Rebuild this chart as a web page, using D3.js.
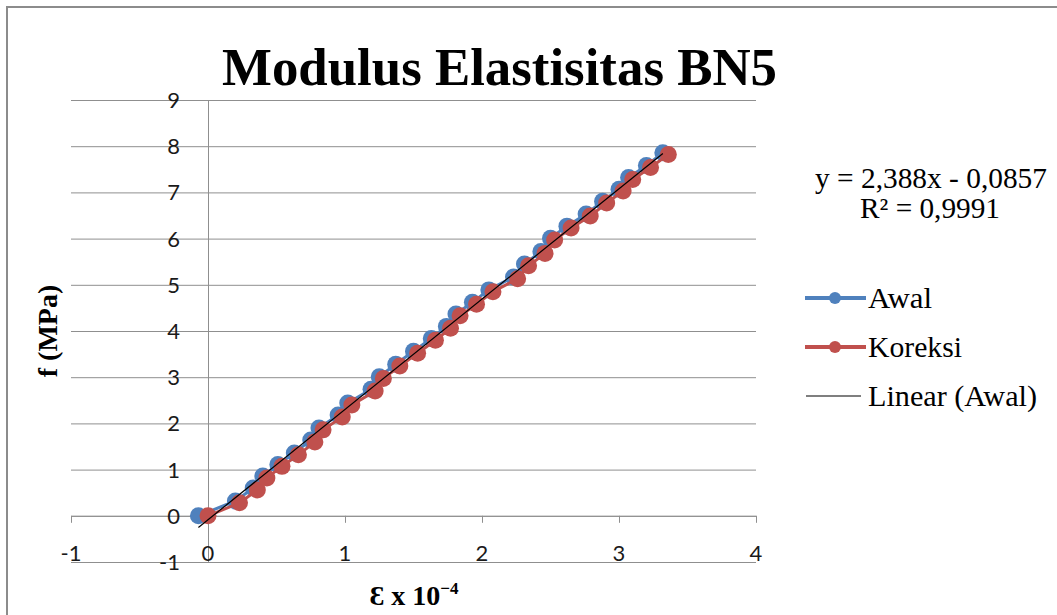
<!DOCTYPE html>
<html><head><meta charset="utf-8">
<script src="https://cdn.jsdelivr.net/npm/d3@7"></script>
<style>body{margin:0;background:#fff;overflow:hidden}</style>
</head><body><svg id="c" width="1057" height="615"></svg>
<script>
// ---- data ----
const awalX = [-0.07, 0.20, 0.33, 0.40, 0.51, 0.63, 0.75, 0.81, 0.95, 1.02, 1.19, 1.25, 1.37, 1.50, 1.63, 1.74, 1.81, 1.93, 2.05, 2.23, 2.31, 2.43, 2.50, 2.62, 2.76, 2.88, 3.00, 3.07, 3.20, 3.32];
const awalY = [0.00, 0.32, 0.60, 0.86, 1.11, 1.36, 1.64, 1.90, 2.18, 2.44, 2.74, 3.01, 3.28, 3.56, 3.84, 4.10, 4.37, 4.62, 4.89, 5.17, 5.45, 5.72, 6.01, 6.27, 6.53, 6.81, 7.07, 7.32, 7.58, 7.86];
const koreksiX = [0.00, 0.23, 0.36, 0.43, 0.54, 0.66, 0.78, 0.84, 0.98, 1.05, 1.22, 1.28, 1.40, 1.53, 1.66, 1.77, 1.84, 1.96, 2.08, 2.26, 2.34, 2.46, 2.53, 2.65, 2.79, 2.91, 3.03, 3.10, 3.23, 3.36];
const koreksiY = [0.00, 0.28, 0.56, 0.82, 1.07, 1.32, 1.60, 1.86, 2.14, 2.40, 2.70, 2.97, 3.24, 3.52, 3.80, 4.06, 4.33, 4.58, 4.85, 5.13, 5.41, 5.68, 5.97, 6.23, 6.49, 6.77, 7.03, 7.28, 7.54, 7.82];
const xTicks = [-1, 0, 1, 2, 3, 4];
const yTicks = [-1, 0, 1, 2, 3, 4, 5, 6, 7, 8, 9];
const trendSlope = 2.388;
const trendIntercept = -0.0857;
const titleText = "Modulus Elastisitas BN5";
const equationText = "y = 2,388x - 0,0857";
const r2Text = "R² = 0,9991";
const seriesNames = ["Awal", "Koreksi", "Linear (Awal)"];
const seriesColors = ["#4F81BD", "#C0504D", "#000000"];

// ---- drawing ----
const svg = d3.select("#c");
const W = 1057, H = 615;
svg.append("rect").attr("x", 0).attr("y", 0).attr("width", W).attr("height", H).attr("fill", "#fff");
svg.append("rect").attr("x", 7).attr("y", 7).attr("width", W + 20).attr("height", H + 20)
  .attr("fill", "none").attr("stroke", "#8c8c8c").attr("stroke-width", 2);

const x = d3.scaleLinear().domain([-1, 4]).range([71, 756]);
const y = d3.scaleLinear().domain([-1, 9]).range([562, 100]);
const grid = "#8f8f8f";

// horizontal gridlines
svg.append("g").attr("transform", `translate(${x(-1)},0)`)
  .call(d3.axisRight(y).tickValues(yTicks).tickSize(x(4) - x(-1)).tickFormat(""))
  .call(g => g.select(".domain").remove())
  .call(g => g.selectAll("line").attr("stroke", grid).attr("stroke-width", 1));

// x axis at y=0
const xa = svg.append("g").attr("transform", `translate(0,${y(0)})`)
  .call(d3.axisBottom(x).tickValues(xTicks).tickSize(7).tickSizeOuter(0).tickFormat(""));
xa.select(".domain").attr("stroke", grid);
xa.selectAll("line").attr("stroke", grid);

// y axis at x=0
const ya = svg.append("g").attr("transform", `translate(${x(0)},0)`)
  .call(d3.axisLeft(y).tickValues(yTicks).tickSize(0).tickSizeOuter(0).tickFormat(""));
ya.select(".domain").attr("stroke", grid);

// tick labels
const tickFont = "Lato, 'Open Sans', sans-serif";
svg.append("g").selectAll("text").data(xTicks).join("text")
  .attr("x", d => x(d)).attr("y", y(0) + 45)
  .attr("text-anchor", "middle").attr("font-family", tickFont).attr("font-size", 22).attr("fill", "#1a1a1a")
  .text(d => d);
svg.append("g").selectAll("text").data(yTicks).join("text")
  .attr("x", x(0) - 28).attr("y", d => y(d) + 8)
  .attr("text-anchor", "end").attr("font-family", tickFont).attr("font-size", 22).attr("fill", "#1a1a1a")
  .text(d => d);

// series
const awal = awalX.map((v, i) => [v, awalY[i]]);
const kor = koreksiX.map((v, i) => [v, koreksiY[i]]);
const line = d3.line().x(d => x(d[0])).y(d => y(d[1]));
[[awal, seriesColors[0]], [kor, seriesColors[1]]].forEach(([data, col]) => {
  svg.append("path").datum(data).attr("d", line).attr("fill", "none").attr("stroke", col).attr("stroke-width", 3);
  svg.append("g").selectAll("circle").data(data).join("circle")
    .attr("cx", d => x(d[0])).attr("cy", d => y(d[1])).attr("r", 8.5).attr("fill", col);
});

// trendline
const tx = d3.extent(awalX);
svg.append("path").datum(tx.map(v => [v, trendSlope * v + trendIntercept]))
  .attr("d", line).attr("stroke", "#000").attr("stroke-width", 1.2).attr("fill", "none");

// title
const serif = "'Liberation Serif', 'Times New Roman', serif";
svg.append("text").attr("x", 499.5).attr("y", 85).attr("text-anchor", "middle")
  .attr("font-family", serif).attr("font-weight", "bold").attr("font-size", 53)
  .attr("textLength", 555).attr("lengthAdjust", "spacingAndGlyphs").text(titleText);

// axis titles
svg.append("text").attr("transform", `translate(57,331) rotate(-90)`).attr("text-anchor", "middle")
  .attr("font-family", serif).attr("font-weight", "bold").attr("font-size", 28).text("f (MPa)");
const xt = svg.append("text").attr("x", 414).attr("y", 605).attr("text-anchor", "middle")
  .attr("font-family", serif).attr("font-weight", "bold").attr("font-size", 28);
xt.append("tspan").text("Ɛ x 10");
xt.append("tspan").attr("dy", -11).attr("font-size", 17).text("−4");

// equation
svg.append("text").attr("x", 931).attr("y", 188).attr("text-anchor", "middle")
  .attr("font-family", serif).attr("font-size", 29)
  .attr("textLength", 232).attr("lengthAdjust", "spacingAndGlyphs").text(equationText);
svg.append("text").attr("x", 930).attr("y", 218).attr("text-anchor", "middle")
  .attr("font-family", serif).attr("font-size", 29)
  .attr("textLength", 140).attr("lengthAdjust", "spacingAndGlyphs").text(r2Text);

// legend
const legY = [298, 347, 396];
const legW = [64, 94, 169];
seriesNames.forEach((n, i) => {
  const g = svg.append("g");
  if (i < 2) {
    g.append("line").attr("x1", 805).attr("x2", 866).attr("y1", legY[i]).attr("y2", legY[i])
      .attr("stroke", seriesColors[i]).attr("stroke-width", 4);
    g.append("circle").attr("cx", 835).attr("cy", legY[i]).attr("r", 6).attr("fill", seriesColors[i]);
  } else {
    g.append("line").attr("x1", 806).attr("x2", 861).attr("y1", legY[i]).attr("y2", legY[i])
      .attr("stroke", "#000").attr("stroke-width", 1.2);
  }
  g.append("text").attr("x", 868).attr("y", legY[i] + 10).attr("font-family", serif).attr("font-size", 29)
    .attr("textLength", legW[i]).attr("lengthAdjust", "spacingAndGlyphs").text(n);
});
</script></body></html>
